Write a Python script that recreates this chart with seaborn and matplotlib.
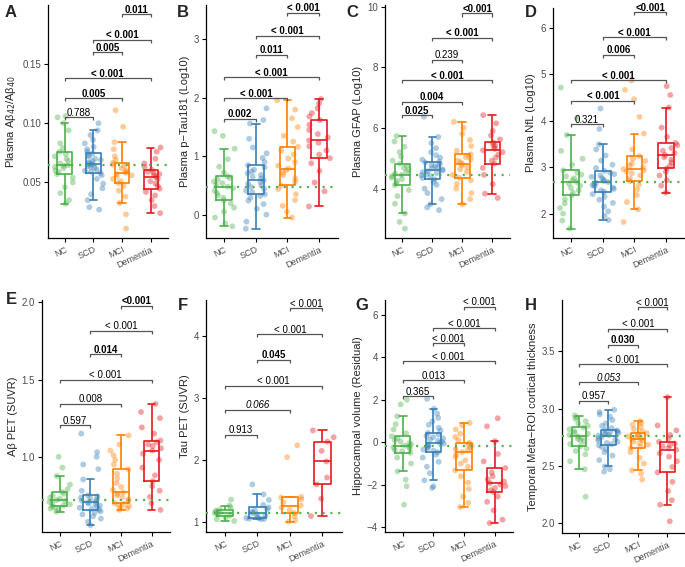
import numpy as np
import pandas as pd
import seaborn as sns
import matplotlib.pyplot as plt

sns.set_style("ticks")
plt.rcParams["font.family"] = ["Liberation Sans", "DejaVu Sans"]

groups = ["NC", "SCD", "MCI", "Dementia"]
colors = ["#4DAF4A", "#377EB8", "#FF7F00", "#E41A1C"]
pairs = [(0, 1), (0, 2), (0, 3), (1, 2), (1, 3), (2, 3)]

# ---- A: plasma Abeta42/40
a_nc = [0.032, 0.035, 0.041, 0.046, 0.050, 0.054, 0.057, 0.059, 0.060, 0.062, 0.063, 0.064, 0.0646,
        0.066, 0.068, 0.070, 0.072, 0.074, 0.076, 0.079, 0.083, 0.094, 0.100, 0.105, 0.106]
a_scd = [0.027, 0.029, 0.035, 0.040, 0.045, 0.049, 0.053, 0.056, 0.058, 0.059, 0.060, 0.061, 0.062,
         0.063, 0.064, 0.065, 0.0655, 0.066, 0.067, 0.068, 0.069, 0.070, 0.072, 0.073, 0.0745, 0.076,
         0.078, 0.080, 0.083, 0.086, 0.090, 0.094, 0.100]
a_mci = [0.011, 0.023, 0.0326, 0.038, 0.043, 0.047, 0.0494, 0.051, 0.053, 0.055, 0.056, 0.057, 0.058,
         0.059, 0.060, 0.062, 0.064, 0.065, 0.0666, 0.069, 0.072, 0.078, 0.084, 0.097, 0.111]
a_dem = [0.024, 0.030, 0.035, 0.039, 0.042, 0.0447, 0.047, 0.049, 0.051, 0.053, 0.0545, 0.056, 0.057,
         0.058, 0.059, 0.0607, 0.063, 0.066, 0.070, 0.076, 0.0795]
a_p = ["0.788", "0.005", "< 0.001", "0.005", "< 0.001", "0.011"]
a_py = [0.105, 0.121, 0.138, 0.160, 0.1705, 0.192]
a_font = ["n", "b", "b", "b", "b", "b"]
a_ticks = [0.05, 0.10, 0.15]
a_ticklabels = ["0.05", "0.10", "0.15"]

# ---- B: plasma p-Tau181
b_nc = [-0.20, -0.15, -0.05, 0.05, 0.12, 0.19, 0.245, 0.29, 0.33, 0.37, 0.41, 0.45, 0.48, 0.51, 0.54,
        0.57, 0.60, 0.63, 0.657, 0.72, 0.82, 0.95, 1.13, 1.35, 1.43]
b_scd = [-0.24, -0.12, 0.0, 0.10, 0.18, 0.24, 0.29, 0.32, 0.348, 0.38, 0.41, 0.44, 0.47, 0.50, 0.53,
         0.56, 0.588, 0.62, 0.65, 0.68, 0.71, 0.74, 0.77, 0.81, 0.846, 0.90, 0.97, 1.05, 1.15, 1.30,
         1.56, 1.62, 1.82]
b_mci = [-0.05, 0.05, 0.15, 0.25, 0.35, 0.44, 0.50, 0.56, 0.62, 0.68, 0.72, 0.76, 0.79, 0.84, 0.90,
         0.96, 1.03, 1.10, 1.16, 1.25, 1.35, 1.50, 1.65, 1.80, 1.96]
b_dem = [0.14, 0.40, 0.55, 0.75, 0.88, 0.966, 1.03, 1.10, 1.17, 1.23, 1.27, 1.32, 1.38, 1.45, 1.54,
         1.62, 1.68, 1.74, 1.82, 1.90, 1.98]
b_p = ["0.002", "< 0.001", "< 0.001", "0.011", "< 0.001", "< 0.001"]
b_py = [1.646, 1.99, 2.35, 2.74, 3.06, 3.46]
b_font = ["b", "b", "b", "b", "b", "b"]
b_ticks = [0, 1, 2, 3]
b_ticklabels = ["0", "1", "2", "3"]

# ---- C: plasma GFAP
c_nc = [2.68, 2.90, 3.18, 3.50, 3.75, 3.95, 4.11, 4.18, 4.25, 4.31, 4.36, 4.41, 4.45, 4.50, 4.55,
        4.61, 4.68, 4.75, 4.82, 4.92, 5.05, 5.20, 5.38, 5.55, 5.73]
c_scd = [3.29, 3.38, 3.48, 3.65, 3.85, 4.00, 4.12, 4.22, 4.30, 4.35, 4.40, 4.44, 4.48, 4.51, 4.54,
         4.57, 4.60, 4.63, 4.66, 4.70, 4.74, 4.78, 4.82, 4.86, 4.89, 4.95, 5.02, 5.10, 5.20, 5.33,
         5.50, 5.70, 6.37]
c_mci = [3.48, 3.65, 3.85, 4.00, 4.15, 4.27, 4.36, 4.45, 4.55, 4.63, 4.70, 4.76, 4.82, 4.87, 4.92,
         4.97, 5.03, 5.08, 5.13, 5.25, 5.40, 5.60, 5.80, 6.00, 6.20]
c_dem = [3.69, 3.83, 4.15, 4.45, 4.68, 4.82, 4.92, 5.02, 5.12, 5.20, 5.26, 5.31, 5.36, 5.41, 5.47,
         5.52, 5.62, 5.75, 5.90, 6.15, 6.42]
c_p = ["0.025", "0.004", "< 0.001", "0.239", "< 0.001", "<0.001"]
c_py = [6.42, 6.86, 7.57, 8.25, 8.97, 9.77]
c_font = ["b", "b", "b", "n", "b", "b"]
c_ticks = [4, 6, 8, 10]
c_ticklabels = ["4", "6", "8", "10"]

# ---- D: plasma NfL
d_nc = [1.68, 1.85, 2.00, 2.12, 2.22, 2.31, 2.395, 2.45, 2.50, 2.55, 2.60, 2.64, 2.68, 2.72, 2.76,
        2.80, 2.84, 2.88, 2.93, 3.05, 3.18, 3.35, 3.69, 4.05, 4.71]
d_scd = [1.86, 1.95, 2.05, 2.15, 2.23, 2.30, 2.36, 2.42, 2.47, 2.50, 2.53, 2.56, 2.59, 2.61, 2.63,
         2.66, 2.68, 2.70, 2.73, 2.76, 2.79, 2.82, 2.85, 2.88, 2.92, 2.98, 3.05, 3.14, 3.25, 3.38,
         3.49, 3.82, 4.26]
d_mci = [1.82, 2.09, 2.25, 2.40, 2.52, 2.62, 2.70, 2.76, 2.82, 2.87, 2.91, 2.93, 2.955, 2.99, 3.03,
         3.08, 3.13, 3.18, 3.235, 3.38, 3.72, 4.08, 4.46, 4.66, 4.86]
d_dem = [2.45, 2.60, 2.72, 2.82, 2.90, 2.97, 3.03, 3.10, 3.16, 3.21, 3.26, 3.30, 3.35, 3.41, 3.47,
         3.52, 3.65, 3.85, 4.28, 4.55, 4.74]
d_p = ["0.321", "< 0.001", "< 0.001", "0.006", "< 0.001", "<0.001"]
d_py = [3.92, 4.43, 4.87, 5.41, 5.79, 6.33]
d_font = ["n", "b", "b", "b", "b", "b"]
d_ticks = [2, 3, 4, 5, 6]
d_ticklabels = ["2", "3", "4", "5", "6"]

# ---- E: Abeta PET
e_nc = [0.645, 0.655, 0.665, 0.672, 0.678, 0.684, 0.692, 0.700, 0.707, 0.714, 0.720, 0.728, 0.736,
        0.748, 0.760, 0.772, 0.790, 0.820, 0.875, 0.93, 1.0]
e_scd = [0.557, 0.579, 0.60, 0.615, 0.627, 0.638, 0.647, 0.656, 0.663, 0.670, 0.677, 0.684, 0.691,
         0.698, 0.704, 0.710, 0.716, 0.722, 0.729, 0.736, 0.743, 0.750, 0.78, 0.853, 0.92, 0.95,
         1.00, 1.03, 1.15]
e_mci = [0.656, 0.665, 0.672, 0.680, 0.688, 0.695, 0.700, 0.712, 0.725, 0.738, 0.750, 0.760, 0.770,
         0.785, 0.805, 0.830, 0.860, 0.890, 0.919, 0.95, 0.98, 1.01, 1.04, 1.08, 1.138]
e_dem = [0.656, 0.70, 0.74, 0.78, 0.81, 0.842, 0.88, 0.93, 0.98, 1.02, 1.04, 1.055, 1.07, 1.08, 1.095,
         1.105, 1.15, 1.19, 1.25, 1.29, 1.342]
e_p = ["0.597", "0.008", "< 0.001", "0.014", "< 0.001", "<0.001"]
e_py = [1.204, 1.342, 1.50, 1.664, 1.814, 1.976]
e_font = ["n", "n", "n", "b", "n", "b"]
e_ticks = [1.0, 1.5, 2.0]
e_ticklabels = ["1.0", "1.5", "2.0"]

# ---- F: Tau PET
f_nc = [1.02, 1.05, 1.08, 1.108, 1.125, 1.14, 1.15, 1.17, 1.19, 1.204, 1.24, 1.27, 1.366]
f_scd = [1.05, 1.055, 1.06, 1.065, 1.07, 1.09, 1.11, 1.13, 1.15, 1.17, 1.19, 1.21, 1.24, 1.28, 1.36,
         1.45, 1.61]
f_mci = [1.01, 1.03, 1.10, 1.15, 1.20, 1.24, 1.27, 1.32, 1.37, 1.40, 1.41, 2.05, 2.24]
f_dem = [1.10, 1.38, 1.61, 1.72, 1.98, 2.15, 2.30, 2.37, 2.48]
f_p = ["0.913", "0.066", "< 0.001", "0.045", "< 0.001", "< 0.001"]
f_py = [2.41, 2.81, 3.20, 3.62, 4.03, 4.45]
f_font = ["n", "i", "n", "b", "n", "n"]
f_ticks = [1, 2, 3, 4]
f_ticklabels = ["1", "2", "3", "4"]

# ---- G: hippocampal volume
g_nc = [-2.94, -2.07, -1.76, -1.37, -1.0, -0.72, -0.50, -0.42, -0.36, -0.30, -0.24, -0.20, -0.16,
        -0.10, -0.04, 0.03, 0.10, 0.18, 0.28, 0.42, 0.60, 0.85, 1.22, 1.78, 2.0]
g_scd = [-2.15, -2.07, -1.79, -1.45, -1.15, -0.92, -0.72, -0.58, -0.47, -0.40, -0.34, -0.28, -0.22,
         -0.17, -0.12, -0.07, -0.03, 0.02, 0.07, 0.12, 0.18, 0.24, 0.30, 0.37, 0.44, 0.55, 0.68,
         0.82, 0.98, 1.15, 1.35, 1.57, 2.04]
g_mci = [-3.05, -2.85, -2.55, -2.20, -1.90, -1.60, -1.32, -1.15, -1.00, -0.85, -0.70, -0.58, -0.455,
         -0.38, -0.32, -0.25, -0.18, -0.10, -0.03, 0.10, 0.25, 0.40, 0.60, 0.80, 0.91]
g_dem = [-3.80, -3.64, -3.20, -2.80, -2.55, -2.34, -2.25, -2.15, -2.06, -1.98, -1.92, -1.85, -1.75,
         -1.60, -1.42, -1.21, -0.90, -0.55, 0.05, 0.75, 1.13]
g_p = ["0.365", "0.013", "< 0.001", "< 0.001", "< 0.001", "< 0.001"]
g_py = [2.17, 2.92, 3.81, 4.65, 5.37, 6.36]
g_font = ["n", "n", "n", "n", "n", "n"]
g_ticks = [-4, -2, 0, 2, 4, 6]
g_ticklabels = ["\u22124", "\u22122", "0", "2", "4", "6"]

# ---- H: temporal meta-ROI thickness
h_nc = [2.23, 2.47, 2.54, 2.60, 2.63, 2.65, 2.67, 2.69, 2.71, 2.72, 2.735, 2.746, 2.757, 2.77, 2.78,
        2.79, 2.805, 2.82, 2.836, 2.85, 2.87, 2.89, 2.91, 2.925, 2.94]
h_scd = [2.45, 2.47, 2.495, 2.55, 2.59, 2.62, 2.645, 2.665, 2.679, 2.69, 2.70, 2.71, 2.72, 2.73,
         2.74, 2.752, 2.763, 2.77, 2.776, 2.782, 2.788, 2.795, 2.802, 2.809, 2.816, 2.83, 2.85,
         2.87, 2.90, 2.93, 2.95, 2.97, 2.99]
h_mci = [2.38, 2.43, 2.46, 2.52, 2.57, 2.62, 2.655, 2.67, 2.685, 2.70, 2.71, 2.722, 2.734, 2.742,
         2.75, 2.758, 2.766, 2.776, 2.787, 2.80, 2.82, 2.84, 2.86, 2.875, 2.89]
h_dem = [2.015, 2.16, 2.20, 2.28, 2.36, 2.443, 2.49, 2.54, 2.58, 2.61, 2.64, 2.655, 2.67, 2.68,
         2.695, 2.71, 2.74, 2.77, 2.81, 2.853, 3.10]
h_p = ["0.957", "0.053", "< 0.001", "0.030", "< 0.001", "< 0.001"]
h_py = [3.07, 3.23, 3.39, 3.56, 3.70, 3.885]
h_font = ["n", "i", "n", "b", "n", "n"]
h_ticks = [2.0, 2.5, 3.0, 3.5]
h_ticklabels = ["2.0", "2.5", "3.0", "3.5"]

panels = [
    ("A", [a_nc, a_scd, a_mci, a_dem], "Plasma A\u03b2$_{42}$/A\u03b2$_{40}$", (0.003, 0.20),
     a_ticks, a_ticklabels, a_p, a_py, a_font, (48, 5, 168, 238), (5, 5)),
    ("B", [b_nc, b_scd, b_mci, b_dem], "Plasma p\u2212Tau181 (Log10)", (-0.4, 3.59),
     b_ticks, b_ticklabels, b_p, b_py, b_font, (206, 5, 338, 238), (177, 5)),
    ("C", [c_nc, c_scd, c_mci, c_dem], "Plasma GFAP (Log10)", (2.37, 10.05),
     c_ticks, c_ticklabels, c_p, c_py, c_font, (385, 5, 510, 238), (346, 5)),
    ("D", [d_nc, d_scd, d_mci, d_dem], "Plasma NfL (Log10)", (1.476, 6.42),
     d_ticks, d_ticklabels, d_p, d_py, d_font, (553, 8, 685, 238), (525, 5)),
    ("E", [e_nc, e_scd, e_mci, e_dem], "A\u03b2 PET (SUVR)", (0.513, 2.015),
     e_ticks, e_ticklabels, e_p, e_py, e_font, (42, 300, 170, 532), (6, 292)),
    ("F", [f_nc, f_scd, f_mci, f_dem], "Tau PET (SUVR)", (0.844, 4.58),
     f_ticks, f_ticklabels, f_p, f_py, f_font, (206, 300, 342, 532), (178, 298)),
    ("G", [g_nc, g_scd, g_mci, g_dem], "Hippocampal volume (Residual)", (-4.22, 6.69),
     g_ticks, g_ticklabels, g_p, g_py, g_font, (385, 300, 513, 532), (355, 298)),
    ("H", [h_nc, h_scd, h_mci, h_dem], "Temporal Meta\u2212ROI cortical thickness", (1.913, 3.95),
     h_ticks, h_ticklabels, h_p, h_py, h_font, (562, 300, 685, 533), (525, 298)),
]

W, H = 685, 567
fig = plt.figure(figsize=(W / 100, H / 100), dpi=100)
np.random.seed(3)

for letter, vals, ylab, ylim, ticks, ticklabels, pv, py, fonts, box, lpos in panels:
    l, t, r, b = box
    ax = fig.add_axes([l / W, 1 - b / H, (r - l) / W, (b - t) / H])
    df = pd.DataFrame({
        "group": np.repeat(groups, [len(v) for v in vals]),
        "value": np.concatenate(vals),
    })
    sns.stripplot(data=df, x="group", y="value", hue="group", order=groups, hue_order=groups,
                  palette=colors, jitter=0.36, size=4.2, alpha=0.4, linewidth=0,
                  legend=False, ax=ax, zorder=1)
    sns.boxplot(data=df, x="group", y="value", hue="group", order=groups, hue_order=groups,
                palette=colors, fill=False, width=0.5, showfliers=False, linewidth=1.2,
                legend=False, ax=ax, zorder=2)
    ax.axhline(np.median(vals[0]), color=colors[0], ls=(0, (0.9, 2.6)), lw=1.6, zorder=3)

    tick_h = (ylim[1] - ylim[0]) * 0.013
    for (i, j), txt, y, f in zip(pairs, pv, py, fonts):
        ax.plot([i, i, j, j], [y - tick_h, y, y, y - tick_h], color="#555555", lw=0.9,
                solid_capstyle="butt", zorder=4)
        ax.text((i + j) / 2, y - tick_h * 0.15, txt, ha="center", va="bottom", fontsize=7,
                fontweight="bold" if f == "b" else "normal",
                fontstyle="italic" if f == "i" else "normal", color="black", zorder=5)

    ax.set_xlim(-0.58, 3.6)
    ax.set_ylim(*ylim)
    ax.set_yticks(ticks, ticklabels)
    ax.set_xlabel("")
    ax.set_ylabel(ylab, fontsize=8, labelpad=3)
    ax.set_xticks(range(4), groups)
    ax.tick_params(axis="both", labelsize=7, labelcolor="#4D4D4D", length=3, width=0.8,
                   color="black", pad=2)
    plt.setp(ax.get_xticklabels(), rotation=25, ha="right", rotation_mode="anchor",
             fontsize=6.5)
    sns.despine(ax=ax)
    for s in ["left", "bottom"]:
        ax.spines[s].set_linewidth(0.9)
        ax.spines[s].set_color("black")
    fig.text(lpos[0] / W, 1 - lpos[1] / H, letter, fontsize=12, fontweight="bold",
             ha="left", va="top")

fig.savefig("out.png", dpi=100)
